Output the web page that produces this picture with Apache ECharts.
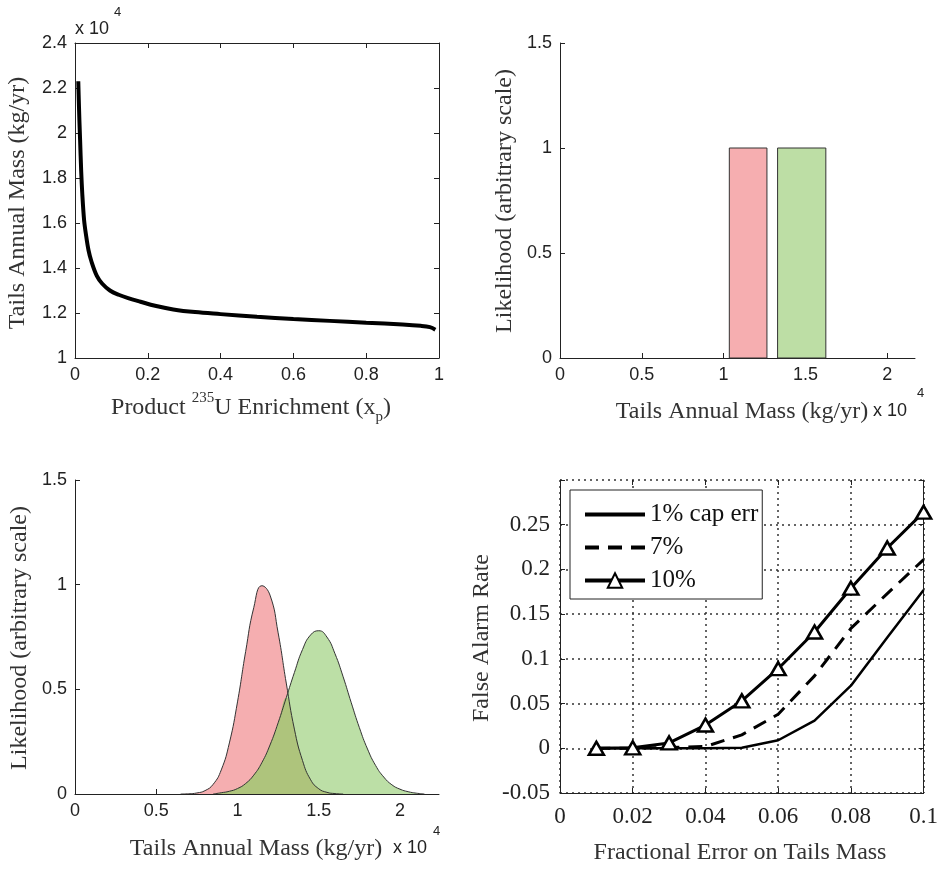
<!DOCTYPE html>
<html>
<head>
<meta charset="utf-8">
<script src="https://cdn.jsdelivr.net/npm/echarts@6.0.0/dist/echarts.min.js"></script>
<style>
  html, body { margin: 0; padding: 0; background: #fff; }
  #main { width: 941px; height: 870px; }
</style>
</head>
<body>
<div id="main"></div>
<script>
// panel 1: tails mass vs product enrichment (mass in units of 1e4 kg/yr)
const enrich = [0.009, 0.010, 0.012, 0.014, 0.017, 0.020, 0.025, 0.030, 0.037, 0.045, 0.060, 0.075, 0.096, 0.120, 0.146, 0.180, 0.220, 0.270, 0.330, 0.400, 0.500, 0.600, 0.700, 0.800, 0.900, 0.950, 0.975, 0.990]
const tailsMass = [2.23, 2.17, 2.06, 1.97, 1.83, 1.73, 1.613, 1.55, 1.48, 1.43, 1.365, 1.33, 1.30, 1.281, 1.266, 1.250, 1.232, 1.216, 1.204, 1.195, 1.183, 1.173, 1.165, 1.157, 1.149, 1.143, 1.137, 1.126]

// panel 2: two bins [start, end, height]
const redBin = [1.035, 1.265, 1]
const greenBin = [1.33, 1.625, 1]

// panel 3: likelihood curves
const massGrid = [0.60, 0.65, 0.70, 0.75, 0.80, 0.85, 0.90, 0.95, 1.00, 1.05, 1.10, 1.15, 1.20, 1.25, 1.30, 1.35, 1.40, 1.45, 1.50, 1.55, 1.60, 1.65, 1.70, 1.75, 1.80, 1.85, 1.90, 1.95, 2.00, 2.05, 2.10, 2.15, 2.20]
const redLike = [null, 0, 0.001, 0.005, 0.016, 0.046, 0.115, 0.244, 0.44, 0.68, 0.89, 0.995, 0.95, 0.77, 0.53, 0.31, 0.16, 0.068, 0.025, 0.008, 0.002, 0, null, null, null, null, null, null, null, null, null, null, null]
const greenLike = [null, null, null, null, null, 0, 0.006, 0.013, 0.026, 0.05, 0.09, 0.15, 0.234, 0.34, 0.46, 0.58, 0.69, 0.76, 0.78, 0.75, 0.67, 0.56, 0.436, 0.317, 0.215, 0.136, 0.081, 0.044, 0.023, 0.011, 0.004, 0, null]

// panel 4: false alarm rate
const fracErr = [0.01, 0.02, 0.03, 0.04, 0.05, 0.06, 0.07, 0.08, 0.09, 0.10]
const fa1 = [0, 0, 0, 0, 0.0005, 0.009, 0.031, 0.070, 0.124, 0.177]
const fa7 = [0, 0, 0.001, 0.002, 0.015, 0.038, 0.081, 0.134, 0.173, 0.211]
const fa10 = [0, 0.0005, 0.006, 0.026, 0.053, 0.089, 0.130, 0.179, 0.224, 0.264]

const SANS = '"Liberation Sans", Arial, sans-serif'
const SERIF = '"Liberation Serif", "Times New Roman", serif'
const INK = '#222'

const pair = (xs, ys) => xs.map((x, i) => [x, ys[i]])
const overlap = massGrid.map((x, i) =>
  redLike[i] == null || greenLike[i] == null ? [x, null] : [x, Math.min(redLike[i], greenLike[i])])

function axis(gridIndex, opts, font) {
  return Object.assign({
    type: 'value',
    gridIndex,
    axisLine: { show: true, onZero: false, lineStyle: { color: INK, width: 1 } },
    axisTick: { show: true, inside: true, length: 5, lineStyle: { color: INK } },
    axisLabel: { color: INK, fontFamily: font || SANS, fontSize: 18, margin: 8 },
    splitLine: { show: false }
  }, opts)
}
// mirror axis (top / right) with ticks only
function mirror(gridIndex, opts, showLine) {
  return axis(gridIndex, Object.assign({
    axisLine: { show: showLine, onZero: false, lineStyle: { color: INK, width: 1 } },
    axisLabel: { show: false }
  }, opts))
}

function label(text, x, y, font, opts) {
  return Object.assign({
    type: 'text', x, y,
    style: Object.assign({ text, font, fill: '#333', align: 'center', verticalAlign: 'middle', textAlign: 'center', textVerticalAlign: 'middle' }, opts && opts.style)
  }, opts && opts.el)
}

const dotted = { show: true, lineStyle: { color: '#333', type: [2, 4], width: 1.5 } }
const binTicks = [0, 0.5, 1, 1.5, 2]
const hide = { opacity: 0 }

const chart = echarts.init(document.getElementById('main'))

const option = {
  animation: false,
  backgroundColor: '#fff',
  grid: [
    { left: 75, top: 43, width: 364, height: 315 },
    { left: 560, top: 43, width: 355, height: 315 },
    { left: 75, top: 480, width: 364, height: 314 },
    { left: 560, top: 480, width: 365, height: 313 }
  ],
  xAxis: [
    axis(0, { min: 0, max: 1, interval: 0.2 }),
    mirror(0, { position: 'top', min: 0, max: 1, interval: 0.2 }, true),
    axis(1, { min: 0, max: 2.17, axisTick: { show: true, inside: true, length: 5, lineStyle: { color: INK }, customValues: binTicks },
      axisLabel: { color: INK, fontFamily: SANS, fontSize: 18, margin: 8, customValues: binTicks } }),
    axis(2, { min: 0, max: 2.24, axisTick: { show: true, inside: true, length: 5, lineStyle: { color: INK }, customValues: binTicks },
      axisLabel: { color: INK, fontFamily: SANS, fontSize: 18, margin: 8, customValues: binTicks } }),
    axis(3, { min: 0, max: 0.1, interval: 0.02, splitLine: dotted,
      axisLabel: { color: INK, fontFamily: SERIF, fontSize: 23, margin: 12 } }),
    mirror(3, { position: 'top', min: 0, max: 0.1, interval: 0.02 }, false)
  ],
  yAxis: [
    axis(0, { min: 1, max: 2.4, interval: 0.2 }),
    mirror(0, { position: 'right', min: 1, max: 2.4, interval: 0.2 }, true),
    axis(1, { min: 0, max: 1.5, interval: 0.5 }),
    axis(2, { min: 0, max: 1.5, interval: 0.5 }),
    axis(3, { min: -0.05, max: 0.3, interval: 0.05, splitLine: dotted,
      axisLabel: { color: INK, fontFamily: SERIF, fontSize: 23, margin: 10,
        customValues: [-0.05, 0, 0.05, 0.1, 0.15, 0.2, 0.25] } }),
    mirror(3, { position: 'right', min: -0.05, max: 0.3, interval: 0.05 }, true)
  ],
  legend: {
    data: [
      { name: '1% cap err', itemStyle: hide, lineStyle: { width: 4 } },
      { name: '7%', itemStyle: hide, lineStyle: { width: 4 } },
      { name: '10%', lineStyle: { width: 4 } }
    ],
    orient: 'vertical',
    left: 570,
    top: 490,
    padding: [12, 4, 6, 13],
    itemGap: 8,
    itemWidth: 60,
    itemHeight: 18,
    borderColor: INK,
    borderWidth: 1,
    backgroundColor: '#fff',
    textStyle: { fontFamily: SERIF, fontSize: 25, color: '#111' }
  },
  graphic: [
    // panel 1 texts
    label('x 10', 75, 29, '18px ' + SANS, { style: { fill: INK, align: 'left', textAlign: 'left' } }),
    label('4', 114, 12, '13px ' + SANS, { style: { fill: INK, align: 'left', textAlign: 'left' } }),
    label('Tails Annual Mass (kg/yr)', 18, 203, '24px ' + SERIF, { el: { rotation: Math.PI / 2 } }),
    label('Product {sup|235}U Enrichment (x{sub|p})', 251, 408, '24px ' + SERIF, { style: {
      lineHeight: 34,
      rich: {
        sup: { fontSize: 15, fontFamily: SERIF, lineHeight: 15, verticalAlign: 'top', fill: '#333' },
        sub: { fontSize: 15, fontFamily: SERIF, lineHeight: 15, verticalAlign: 'bottom', fill: '#333' }
      } } }),
    // panel 2 texts
    label('Likelihood (arbitrary scale)', 505, 201, '24px ' + SERIF, { el: { rotation: Math.PI / 2 } }),
    label('Tails Annual Mass (kg/yr)', 742, 412, '24px ' + SERIF),
    label('x 10', 873, 411, '18px ' + SANS, { style: { fill: INK, align: 'left', textAlign: 'left' } }),
    label('4', 917, 393, '13px ' + SANS, { style: { fill: INK, align: 'left', textAlign: 'left' } }),
    // panel 3 texts
    label('Likelihood (arbitrary scale)', 20, 638, '24px ' + SERIF, { el: { rotation: Math.PI / 2 } }),
    label('Tails Annual Mass (kg/yr)', 256, 849, '24px ' + SERIF),
    label('x 10', 393, 848, '18px ' + SANS, { style: { fill: INK, align: 'left', textAlign: 'left' } }),
    label('4', 433, 831, '13px ' + SANS, { style: { fill: INK, align: 'left', textAlign: 'left' } }),
    // panel 4 texts
    label('False Alarm Rate', 482, 638, '24px ' + SERIF, { el: { rotation: Math.PI / 2 } }),
    label('Fractional Error on Tails Mass', 740, 853, '24px ' + SERIF)
  ],
  series: [
    {
      type: 'line', xAxisIndex: 0, yAxisIndex: 0,
      data: pair(enrich, tailsMass),
      symbol: 'none', smooth: 0.35,
      lineStyle: { color: '#000', width: 4 }
    },
    {
      type: 'custom', xAxisIndex: 2, yAxisIndex: 2,
      encode: { x: [0, 1], y: 2 },
      data: [
        { value: redBin, itemStyle: { color: '#f6aeb0' } },
        { value: greenBin, itemStyle: { color: '#bddea5' } }
      ],
      itemStyle: { borderColor: '#333', borderWidth: 1 },
      renderItem(params, api) {
        const p0 = api.coord([api.value(0), api.value(2)])
        const p1 = api.coord([api.value(1), 0])
        return {
          type: 'rect',
          shape: { x: p0[0], y: p0[1], width: p1[0] - p0[0], height: p1[1] - p0[1] },
          style: api.style()
        }
      }
    },
    // panel 3 filled areas, then outlines
    {
      type: 'line', xAxisIndex: 3, yAxisIndex: 3, z: 2,
      data: pair(massGrid, redLike), symbol: 'none', smooth: 0.5,
      lineStyle: { width: 0 }, areaStyle: { color: '#f5aeb0', opacity: 1 }
    },
    {
      type: 'line', xAxisIndex: 3, yAxisIndex: 3, z: 3,
      data: pair(massGrid, greenLike), symbol: 'none', smooth: 0.5,
      lineStyle: { width: 0 }, areaStyle: { color: '#bcdfa6', opacity: 1 }
    },
    {
      type: 'line', xAxisIndex: 3, yAxisIndex: 3, z: 4,
      data: overlap, symbol: 'none', smooth: 0.5,
      lineStyle: { width: 0 }, areaStyle: { color: '#aec47c', opacity: 1 }
    },
    {
      type: 'line', xAxisIndex: 3, yAxisIndex: 3, z: 5,
      data: pair(massGrid, redLike), symbol: 'none', smooth: 0.5,
      lineStyle: { color: '#333', width: 1 }
    },
    {
      type: 'line', xAxisIndex: 3, yAxisIndex: 3, z: 5,
      data: pair(massGrid, greenLike), symbol: 'none', smooth: 0.5,
      lineStyle: { color: '#333', width: 1 }
    },
    // panel 4
    {
      name: '1% cap err', type: 'line', xAxisIndex: 4, yAxisIndex: 4,
      data: pair(fracErr, fa1), symbol: 'none',
      itemStyle: { color: '#000' }, lineStyle: { color: '#000', width: 2.5 }
    },
    {
      name: '7%', type: 'line', xAxisIndex: 4, yAxisIndex: 4,
      data: pair(fracErr, fa7), symbol: 'none',
      itemStyle: { color: '#000' }, lineStyle: { color: '#000', width: 3, type: [14, 9] }
    },
    {
      name: '10%', type: 'line', xAxisIndex: 4, yAxisIndex: 4, z: 6,
      data: pair(fracErr, fa10), symbol: 'triangle', symbolSize: [15, 13],
      itemStyle: { color: '#fff', borderColor: '#000', borderWidth: 2.5 },
      lineStyle: { color: '#000', width: 3 }
    }
  ]
}

chart.setOption(option)
</script>
</body>
</html>
